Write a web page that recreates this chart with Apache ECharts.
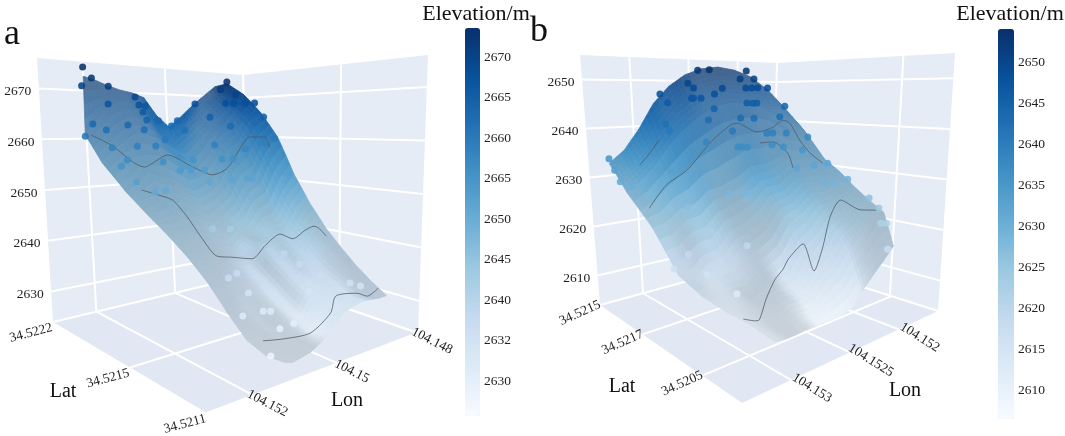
<!DOCTYPE html><html><head><meta charset="utf-8"><style>html,body{margin:0;padding:0;background:#fff}#c{width:1065px;height:436px}</style>
<script src="https://cdn.jsdelivr.net/npm/echarts@6/dist/echarts.min.js"></script></head><body><div id="c"></div><script>
const blues=['#f7fbff','#deebf7','#c6dbef','#9ecae1','#6baed6','#4292c6','#2171b5','#08519c','#08306b'];
const colorbarLabelsA=['2670','2665','2660','2665','2650','2645','2640','2632','2630'];
const colorbarLabelsB=['2650','2645','2640','2635','2630','2625','2620','2615','2610'];
const elevTicksA=[2630,2640,2650,2660,2670];
const elevTicksB=[2610,2620,2630,2640,2650];
const lonLabelsA=['104.148','104.15','104.152'];const lonPosA=[0,.38,.78];
const latLabelsA=['34.5222','34.5215','34.5211'];const latPosA=[0,.5,1];
const lonLabelsB=['104.152','104.1525','104.153'];const lonPosB=[.2,.45,.75];
const latLabelsB=['34.5215','34.5217','34.5205'];const latPosB=[0,.3,.72];
const rowLonStartA=[.78,.81,.79,.76,.74,.72,.705,.69,.675,.66,.645,.63];
const rowLonEndA=[.08,.082,.088,.095,.103,.11,.12,.125,.135,.14,.15,.156];
const rowLatStartA=[0,.03,.1,.2,.3,.4,.5,.6,.7,.8,.9,1];
const rowLatEndA=[0,.03,.1,.2,.3,.4,.5,.6,.7,.8,.9,1];
const elevationA=[
[2673,2672.3,2671.3,2670.5,2670,2669,2665,2662.4,2664.8,2667.5,2670,2672.5,2673.4],
[2661,2664,2667,2668,2668,2666,2662.5,2660.5,2662.5,2665,2668,2671,2672.5],
[2655.7,2658,2660,2661.5,2661,2660,2658,2656.5,2659,2662,2665,2668,2670.4],
[2650.6,2651.7,2654,2653,2652.6,2650.7,2649.3,2650.2,2652.5,2657.6,2659.4,2664,2665.9],
[2647,2647.1,2648,2646.5,2646.6,2644.7,2643.3,2644.7,2646.5,2650.6,2652.4,2657.5,2660.4],
[2643.8,2643.1,2643,2641.5,2641.6,2640.2,2639.3,2641.2,2641.5,2644.1,2644.9,2649.5,2652.4],
[2640.6,2639.6,2639.5,2638,2638.6,2637.7,2637.8,2640.2,2640.5,2641.6,2640.9,2644.5,2646.9],
[2637,2635.6,2636,2634.5,2635.6,2635.2,2635.3,2637.7,2637.5,2639.1,2638.4,2641,2642.4],
[2632.7,2631.6,2632,2631,2632.6,2632.2,2632.8,2635.2,2635,2636.6,2635.9,2638.5,2639.4],
[2629,2628.6,2629.5,2629,2630.6,2630.2,2630.8,2633.2,2633,2635.1,2634.4,2636.5,2636.6],
[2627.5,2627.2,2627.9,2627.6,2629,2628.8,2629.5,2631.6,2631.6,2633.5,2633,2634.8,2634.7],
[2627.4,2627,2627.3,2627.6,2628.4,2629.4,2630.9,2632.4,2633,2633.3,2633.3,2633,2633]];
const reliefA=['222236997337','222238863357','222224633458','222223335569','222233366479','222234827486','222358294874','223359395963','123248497942','112248899931','111158899722'];
const rowLonStartB=[.97,.955,.94,.8975,.854,.81,.767,.7235,.68];
const rowLatStartB=[.1,.135,.17,.275,.38,.485,.59,.695,.8];
const rowLonEndB=[.1,.1,.1,.1,.1,.1,.1,.1,.12];
const rowLatEndB=[.25,.28,.31,.4,.49,.58,.67,.76,.85];
const elevationB=[
[2634,2636.5,2640.7,2646,2649.6,2652,2653.3,2653.7,2653,2651.4,2648.4,2644.3,2639.8],
[2631.5,2634,2637.5,2642,2645.5,2648,2649.5,2650,2649.5,2648,2645,2641.5,2638.5],
[2628.8,2631,2634,2638,2641,2643.5,2645.5,2646,2646,2644.5,2642,2639.5,2637],
[2623,2623.7,2626,2626.6,2629,2629.7,2631,2633,2633.1,2634.5,2633,2633.4,2632.6],
[2615,2615.6,2618,2618.5,2621.6,2622.7,2624.4,2627.6,2628,2630.5,2630,2631,2630.3],
[2612,2612.1,2613.5,2613.5,2615.6,2616.7,2618.4,2622.6,2624,2626.5,2626.5,2627.8,2627.5],
[2610.2,2609.6,2610.5,2610,2611.6,2611.7,2612.9,2616.6,2618.5,2622,2623,2625.5,2625.2],
[2608.8,2608.2,2608.9,2608.1,2609.3,2609.2,2610,2612.5,2614,2617.5,2619.5,2623,2623.3],
[2606.7,2606.5,2606.6,2606.8,2607,2607,2607,2607.2,2608,2610.5,2612.8,2615,2617.4]];
const reliefB=['698553333333','598653333322','588754332222','737722784333','477632277433','552228888432','532238899532','422379999421'];
const ptLonA=[78,74,79,66,54,54,50,53,53,44,69,77,73,64,81,57,36,33,33,24,23,8,13,11,16,14,11,9,20,28,20,64,55,47,73,55,37,28,26,46,40,35,24,35,29,70,73,70,66,60,10,11,15,13,13,23,45,38,56,52,52,61,30,29,27,31,34,21,20,52,50,51,63,46];
const ptLatA=[0,0,0,0,1,3,2,4,6,2,3,3,6,8,3,9,0,0,4,0,7,0,2,8,8,10,13,16,15,15,23,13,13,9,9,17,13,19,23,16,15,17,29,20,26,14,14,19,25,24,22,29,28,38,46,30,33,35,56,56,63,71,57,65,75,73,77,85,90,72,74,81,91,83];
const ptElevA=[2674.9,2672.7,2671,2671.2,2669.1,2667.4,2667.2,2665.9,2664.2,2663.9,2667.4,2663.2,2662.1,2663.2,2660.7,2662.2,2662.7,2663.9,2661.8,2668,2664.9,2673.9,2671.7,2670.4,2668.3,2668.3,2668.3,2668.3,2662.9,2658.7,2657.9,2659,2658.9,2659.9,2658.6,2655.8,2655.4,2655.7,2655.8,2653.7,2653.5,2653.4,2651.8,2651,2651.5,2656.4,2655.2,2652.3,2650.6,2650.5,2665,2660.2,2659.2,2652.8,2648.4,2651.8,2642.7,2642.3,2636.3,2636.8,2633.9,2631.6,2638.6,2637.2,2635.7,2634.6,2633.8,2634.6,2634.4,2631.6,2631.6,2629.4,2627.4,2630];
const ptLonB=[55,50,34,38,31,61,59,47,36,33,30,25,72,51,61,60,57,70,38,35,33,17,53,23,43,37,56,73,72,48,33,30,23,59,47,45,43,32,27,97,96,95,91,79,75,55,50,48,80,73,11,18,18,11,26,17,10,20,10,10,67,56,79,75,86,68,14,11,13];
const ptLatB=[17,18,21,22,22,18,19,22,23,23,23,23,14,22,20,20,21,16,26,26,26,24,24,28,28,29,24,18,19,29,32,32,32,26,31,31,32,34,35,10,12,14,17,21,23,35,38,39,27,30,31,36,43,43,42,54,54,52,67,73,37,47,37,44,36,55,84,79,78];
const ptElevB=[2653,2653.1,2652.8,2651.1,2651,2650.3,2649.3,2649.2,2649.1,2649,2649,2648.9,2647.9,2648,2647.2,2647.2,2647.2,2646.2,2645.9,2645.8,2645.8,2644.5,2645,2642.4,2642.9,2642.7,2642.7,2642,2640.6,2640.4,2639.4,2639.3,2638.9,2638.3,2637.1,2637,2636.9,2636.9,2636.2,2634.9,2632.8,2630.7,2629.9,2632.9,2632.9,2628.2,2628.2,2628.1,2626,2626.3,2637.3,2635,2632,2631.9,2632,2628.7,2628.9,2628.9,2625.7,2624,2621.8,2619,2618.3,2615,2616,2612,2617,2621.4,2621.6];
const contoursA=[
[[79.2,4.2,2661],[73.4,8.8,2659.2],[65.3,18.3,2655.1],[49.7,13.3,2656.9],[38.2,14.2,2654],[33.1,19.2,2652.4],[28.4,22.5,2653.9],[19.7,21.7,2659.2],[17.5,22.5,2660.5],[13.6,26.7,2660.5],[14.3,30,2658.3]],
[[69.7,21.7,2650.9],[65.4,25.8,2650.1],[59,26.7,2648.8],[56.1,31.7,2645.7],[55.3,38.3,2642.5],[54.1,46.7,2639.3],[47.5,47.5,2638.6],[40.4,50.8,2638],[33.9,50.8,2640.1],[26.2,50,2641.6],[22.2,52.5,2640.5],[18.2,55,2642.1],[15.5,56.7,2642.8],[14.4,58.3,2642.4],[14.3,62.5,2641.1]],
[[60.3,82.5,2628.6],[52.6,85,2628.3],[43.5,90,2628.8],[35.9,92.5,2631.7],[29,86.7,2633.3],[22.2,90.8,2633.4],[22.1,96.7,2633.4],[15.6,95,2633.9]]];
const contoursB=[
[[88.1,23.7,2626.3],[78.5,23.6,2630.3],[69.1,25.9,2633.1],[57.4,27,2638.4],[47.9,27.8,2641.6],[45,28.3,2641.9],[37.3,31.1,2639.8],[30,31.5,2640.4],[21.7,28.5,2641.6],[18.2,28.4,2640.8],[17.4,33.5,2637.1],[15.6,37.6,2634.3],[13.8,43.2,2632.2]],
[[86.1,16.2,2633.9],[80.8,17.1,2636.4],[76.7,17.8,2638.8]],
[[37.1,32.7,2637.5],[31.4,33.6,2637.5],[25.6,36,2634.8],[27.8,41.8,2632.1]],
[[72.3,64.5,2609.2],[68.6,67.4,2608.8],[66.4,67.6,2608.7],[57.7,61.3,2610.6],[51.2,58.9,2613.2],[46.6,58.6,2614.7],[43.5,58.2,2616.3],[37.9,60.5,2618.9],[37.9,67.6,2614.3],[32.4,65.9,2617.8],[26,62.8,2623.4],[19.1,60.6,2625.8],[16.3,69.3,2624.1],[10,73.8,2623.6]]];
const SERIF='"Liberation Serif","Times New Roman",serif',INK='#222';
function bil(a,b,c,d,s,t){return [0,1].map(k=>a[k]*(1-s)*(1-t)+b[k]*s*(1-t)+c[k]*(1-s)*t+d[k]*s*t);}
function projector(box){return (s,t,z)=>{const w=(z-box.zMin)/(box.zMax-box.zMin),f=bil(box.B,box.L,box.R,box.F,s,t),u=bil(box.Bt,box.Lt,box.Rt,box.Ft,s,t);return [f[0]+(u[0]-f[0])*w,f[1]+(u[1]-f[1])*w];};}
function rgb(h){return [1,3,5].map(i=>parseInt(h.substr(i,2),16));}
function cmap(z,lo,hi){let f=Math.max(0,Math.min(1,(z-lo)/(hi-lo)))*(blues.length-1),i=Math.min(blues.length-2,Math.floor(f)),a=rgb(blues[i]),b=rgb(blues[i+1]);return a.map((v,k)=>v+(b[k]-v)*(f-i));}
const css=c=>`rgb(${c.map(v=>Math.round(v)).join(',')})`;
const GRAY=[154,168,180];
function customSeries(items){return {type:'custom',coordinateSystem:'cartesian2d',xAxisIndex:0,yAxisIndex:0,silent:true,clip:false,animation:false,progressive:0,data:items.map((_,i)=>[i]),renderItem:(p,api)=>{const it=items[p.dataIndex];
 if(it.text!==undefined){const q=api.coord(it.at);return {type:'text',x:q[0],y:q[1],rotation:(it.rot||0)*Math.PI/180,style:{text:it.text,font:it.font,fill:INK,textAlign:'center',textVerticalAlign:'middle'}};}
 const pts=it.pts.map(q=>api.coord(q));
 if(it.fill)return {type:'polygon',shape:{points:pts},style:{fill:it.fill,stroke:it.stroke||it.fill,lineWidth:it.sw===undefined?.8:it.sw}};
 return {type:'polyline',shape:{points:pts},style:{fill:'none',stroke:it.stroke,lineWidth:it.lw,opacity:it.op===undefined?1:it.op}};}};}
function panel(cfg){const P=projector(cfg.box),b=cfg.box,out=[];
 const wall='#e5ecf6',zl=b.zMin,zh=b.zMax;
 const back=[];
 back.push({pts:[P(0,0,zl),P(1,0,zl),P(1,0,zh),P(0,0,zh)],fill:wall,sw:0});
 back.push({pts:[P(0,0,zl),P(0,1,zl),P(0,1,zh),P(0,0,zh)],fill:wall,sw:0});
 back.push({pts:[P(0,0,zl),P(1,0,zl),P(1,1,zl),P(0,1,zl)],fill:'#e2e8f3',sw:0});
 const line=(a,c)=>back.push({pts:[a,c],stroke:'#fff',lw:2});
 cfg.elevTicks.forEach(z=>{line(P(0,0,z),P(1,0,z));line(P(0,0,z),P(0,1,z));});
 cfg.lonPos.concat([0]).forEach(s=>{line(P(s,0,zl),P(s,0,zh));line(P(s,0,zl),P(s,1,zl));});
 cfg.latWall.forEach(t=>line(P(0,t,zl),P(0,t,zh)));
 cfg.latPos.forEach(t=>line(P(0,t,zl),P(1,t,zl)));
 out.push(customSeries(back));
 const Z=cfg.elev,R=Z.length,C=Z[0].length,N=4,cells=[],RL=cfg.relief;
 const lit=(y,x)=>{const gy=Math.max(0,Math.min(R-2,y-.5)),gx=Math.max(0,Math.min(C-2,x-.5)),i=Math.min(R-3,Math.floor(gy)),j=Math.min(C-3,Math.floor(gx)),v=gy-i,u=gx-j,g=(r,c)=>+RL[r][c]/9,val=(g(i,j)*(1-u)+g(i,j+1)*u)*(1-v)+(g(i+1,j)*(1-u)+g(i+1,j+1)*u)*v;return Math.max(0,Math.min(1,(val-.5)*1.7+.5));};
 const V=(i,j,u,v)=>{const c=(j+u)/(C-1),sa=cfg.lonS[i]+(cfg.lonS[i+1]-cfg.lonS[i])*v,sb=cfg.lonE[i]+(cfg.lonE[i+1]-cfg.lonE[i])*v,ta=cfg.latS[i]+(cfg.latS[i+1]-cfg.latS[i])*v,tb=cfg.latE[i]+(cfg.latE[i+1]-cfg.latE[i])*v;const z=(Z[i][j]*(1-u)+Z[i][j+1]*u)*(1-v)+(Z[i+1][j]*(1-u)+Z[i+1][j+1]*u)*v;return {s:sa+(sb-sa)*c,t:ta+(tb-ta)*c,z};};
 for(let i=0;i<R-1;i++)for(let j=0;j<C-1;j++)for(let a=0;a<N;a++)for(let e=0;e<N;e++){
  const q=[V(i,j,e/N,a/N),V(i,j,(e+1)/N,a/N),V(i,j,(e+1)/N,(a+1)/N),V(i,j,e/N,(a+1)/N)];
  const zm=(q[0].z+q[1].z+q[2].z+q[3].z)/4,li=lit(i+(a+.5)/N,j+(e+.5)/N),g=.5-.44*li,col=cmap(zm,cfg.cbMin,cfg.cbMax).map((x,k)=>x*(1-g)+GRAY[k]*g);
  cells.push({pts:q.map(o=>P(o.s,o.t,o.z)),fill:css(col)});
 }
 out.push(customSeries(cells));
 cfg.contours.forEach(c=>out.push({type:'line',xAxisIndex:0,yAxisIndex:0,silent:true,animation:false,clip:false,showSymbol:false,smooth:.25,z:2,lineStyle:{color:'#4d5864',width:.9,opacity:.85},data:c.map(p=>P(p[0]/100,p[1]/100,p[2]))}));
 const pts=cfg.ptLon.map((s,i)=>({value:P(s/100,cfg.ptLat[i]/100,cfg.ptElev[i]),itemStyle:{color:css(cmap(cfg.ptElev[i],cfg.cbMin,cfg.cbMax)),opacity:.88}}));
 out.push({type:'scatter',xAxisIndex:0,yAxisIndex:0,silent:true,animation:false,symbolSize:7,clip:false,data:pts,z:3});
 const txt=[];
 const SZ='13.5px '+SERIF;
 cfg.elevTicks.forEach(z=>{const p=P(1,0,z);txt.push({text:String(z),at:[p[0]-21,p[1]+3],font:SZ});});
 cfg.lonLabels.forEach((l,i)=>{const p=P(cfg.lonPos[i],1,zl);txt.push({text:l,at:[p[0]+cfg.lonOff[0],p[1]+cfg.lonOff[1]],font:SZ,rot:-cfg.lonRot});});
 cfg.latLabels.forEach((l,i)=>{const p=P(1,cfg.latPos[i],zl);txt.push({text:l,at:[p[0]+cfg.latOff[0],p[1]+cfg.latOff[1]],font:SZ,rot:cfg.latRot});});
 out.push(customSeries(txt));
 return out;}
const series=[].concat(
 panel({box:{B:[250,275],L:[53,322],R:[418,333],F:[207,413],Bt:[243,75],Lt:[37,58],Rt:[428,55],Ft:[205,71],zMin:2624,zMax:2676},elevTicks:elevTicksA,lonPos:lonPosA,latPos:latPosA,latWall:[.53],lonLabels:lonLabelsA,latLabels:latLabelsA,lonOff:[14,8],latOff:[-22,11],lonRot:27,latRot:15,elev:elevationA,relief:reliefA,lonS:rowLonStartA,lonE:rowLonEndA,latS:rowLatStartA,latE:rowLatEndA,cbMin:2625,cbMax:2674,contours:contoursA,ptLon:ptLonA,ptLat:ptLatA,ptElev:ptElevA}),
 panel({box:{B:[772,258],L:[600,305],R:[938,311],F:[742,403],Bt:[777,63],Lt:[580,55],Rt:[955,53],Ft:[742,88],zMin:2604,zMax:2655},elevTicks:elevTicksB,lonPos:lonPosB,latPos:latPosB,latWall:[.71],lonLabels:lonLabelsB,latLabels:latLabelsB,lonOff:[21,8],latOff:[-20,8],lonRot:32,latRot:24,elev:elevationB,relief:reliefB,lonS:rowLonStartB,lonE:rowLonEndB,latS:rowLatStartB,latE:rowLatEndB,cbMin:2606,cbMax:2654,contours:contoursB,ptLon:ptLonB,ptLat:ptLatB,ptElev:ptElevB})
);
const dummyA=series.length;series.push({type:'scatter',data:[],xAxisIndex:0,yAxisIndex:0});
const tickFont={color:INK,fontFamily:SERIF,fontSize:13.5,margin:3,interval:0};
const chart=echarts.init(document.getElementById('c'),null,{renderer:'canvas'});
chart.setOption({animation:false,backgroundColor:'#fff',
 grid:[{left:0,top:0,right:0,bottom:0},{left:480,top:57,width:1,height:324},{left:1014,top:62,width:1,height:328}],
 xAxis:[{type:'value',min:0,max:1065,show:false},{type:'value',gridIndex:1,show:false},{type:'value',gridIndex:2,show:false}],
 yAxis:[{type:'value',min:0,max:436,inverse:true,show:false},
  {type:'category',gridIndex:1,data:colorbarLabelsA,inverse:true,boundaryGap:false,position:'right',axisLine:{show:false},axisTick:{show:false},axisLabel:tickFont},
  {type:'category',gridIndex:2,data:colorbarLabelsB,inverse:true,boundaryGap:false,position:'right',axisLine:{show:false},axisTick:{show:false},axisLabel:tickFont}],
 visualMap:[{type:'continuous',min:2625,max:2674,seriesIndex:dummyA,left:465,top:28,itemWidth:15,itemHeight:388,padding:0,text:null,calculable:false,inRange:{color:blues}},
  {type:'continuous',min:2606,max:2654,seriesIndex:dummyA,left:998,top:29,itemWidth:16,itemHeight:390,padding:0,text:null,calculable:false,inRange:{color:blues}}],
 graphic:[['Elevation/m',476,14,22],['Elevation/m',1010,14,22],['a',12,35,36],['b',539,32,36],['Lat',63,392,20],['Lon',347,401,20],['Lat',622,387,20],['Lon',905,391,20]].map(g=>({type:'text',x:g[1],y:g[2],style:{text:g[0],font:g[3]+'px '+SERIF,fill:'#111',textAlign:'center',textVerticalAlign:'middle'}})),
 series});
</script></body></html>
